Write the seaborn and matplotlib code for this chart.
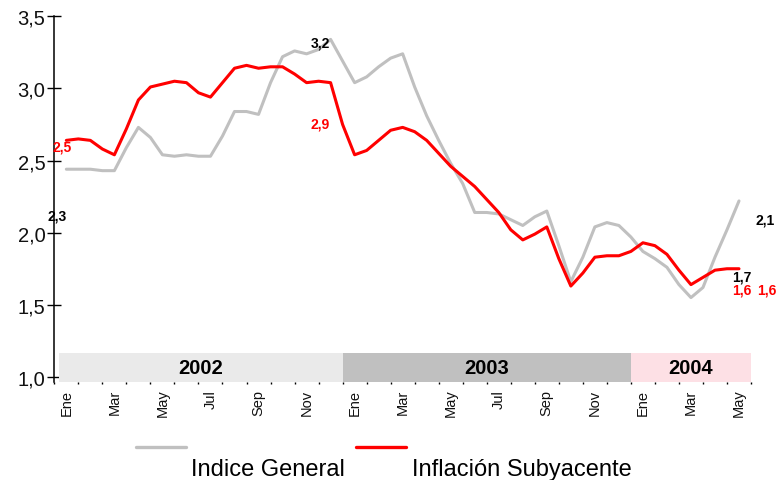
import numpy as np
import pandas as pd
import matplotlib
matplotlib.use("Agg")
import matplotlib.pyplot as plt
from matplotlib.lines import Line2D
from matplotlib.patches import Rectangle
import seaborn as sns

# ---- data (half-month samples, Ene 2002 .. May 2004) ----
month_labels = ["Ene", "Feb", "Mar", "Abr", "May", "Jun", "Jul", "Ago", "Sep", "Oct", "Nov", "Dic",
                "Ene", "Feb", "Mar", "Abr", "May", "Jun", "Jul", "Ago", "Sep", "Oct", "Nov", "Dic",
                "Ene", "Feb", "Mar", "Abr", "May"]
years = ["2002", "2003", "2004"]

indice_general = [2.44, 2.44, 2.44, 2.43, 2.43, 2.59, 2.73, 2.66, 2.54, 2.53,
                  2.54, 2.53, 2.53, 2.67, 2.84, 2.84, 2.82, 3.04, 3.22, 3.26,
                  3.24, 3.27, 3.34, 3.19, 3.04, 3.08, 3.15, 3.21, 3.24, 3.01,
                  2.81, 2.64, 2.48, 2.34, 2.14, 2.14, 2.13, 2.09, 2.05, 2.11,
                  2.15, 1.91, 1.66, 1.83, 2.04, 2.07, 2.05, 1.97, 1.87, 1.82,
                  1.76, 1.64, 1.55, 1.62, 1.83, 2.02, 2.22]

inflacion_subyacente = [2.64, 2.65, 2.64, 2.58, 2.54, 2.72, 2.92, 3.01, 3.03, 3.05,
                        3.04, 2.97, 2.94, 3.04, 3.14, 3.16, 3.14, 3.15, 3.15, 3.10,
                        3.04, 3.05, 3.04, 2.75, 2.54, 2.57, 2.64, 2.71, 2.73, 2.70,
                        2.64, 2.55, 2.46, 2.39, 2.32, 2.23, 2.14, 2.02, 1.95, 1.99,
                        2.04, 1.82, 1.63, 1.72, 1.83, 1.84, 1.84, 1.87, 1.93, 1.91,
                        1.85, 1.74, 1.64, 1.69, 1.74, 1.75, 1.75]

annotations = [("3,2", 10.57, 3.32, "black"), ("2,9", 10.57, 2.757, "red"),
               ("2,5", -0.18, 2.598, "red"), ("2,3", -0.40, 2.117, "black"),
               ("2,1", 29.08, 2.089, "black"), ("1,7", 28.11, 1.697, "black"),
               ("1,6", 28.11, 1.605, "red"), ("1,6", 29.15, 1.605, "red")]

GREY = "#c0c0c0"
RED = "#ff0000"
band_colors = ["#eaeaea", "#c0c0c0", "#fde0e5"]
band_edges = [-0.3, 11.5, 23.5, 28.5]

sns.set_theme(style="white")
plt.rcParams["font.family"] = ["Liberation Sans", "DejaVu Sans"]

fig = plt.figure(figsize=(7.76, 4.81), dpi=100)
ax = fig.add_axes([0.070, 0.2044, 0.8978, 0.7596])

t = np.arange(len(indice_general)) / 2.0
df = pd.DataFrame({"t": t, "ig": indice_general, "is": inflacion_subyacente})
sns.lineplot(data=df, x="t", y="ig", ax=ax, color=GREY, lw=2.2, legend=False,
             solid_joinstyle="round", solid_capstyle="round")
sns.lineplot(data=df, x="t", y="is", ax=ax, color=RED, lw=2.2, legend=False,
             solid_joinstyle="round", solid_capstyle="round")

ax.set_xlim(-0.5, 28.5)
ax.set_ylim(0.967, 3.5)

# year bands
for i, yr in enumerate(years):
    x0, x1 = band_edges[i], band_edges[i + 1]
    ax.add_patch(Rectangle((x0, 0.967), x1 - x0, 0.202, facecolor=band_colors[i],
                           edgecolor="none", zorder=1))
    ax.text((x0 + x1) / 2, 1.068, yr, ha="center", va="center", fontsize=14.5,
            fontweight="bold", color="black", zorder=3)

for txt, x, y, c in annotations:
    ax.text(x, y, txt, ha="center", va="center", fontsize=10, fontweight="bold", color=c,
            zorder=4)

# axes styling
for s in ["top", "right", "bottom"]:
    ax.spines[s].set_visible(False)
ax.spines["left"].set_color("black")
ax.spines["left"].set_linewidth(1.1)

yt = [1.0, 1.5, 2.0, 2.5, 3.0, 3.5]
ax.set_yticks(yt)
ax.set_yticklabels([f"{v:.1f}".replace(".", ",") for v in yt], fontsize=14.5, color="#111111")
ax.tick_params(axis="y", which="major", direction="inout", length=10, width=1.0,
               color="black", pad=1.5, left=True)

major_pos = list(range(0, 29, 2))
ax.set_xticks(major_pos)
ax.set_xticklabels([month_labels[i] for i in major_pos], rotation=90, fontsize=10.5,
                   color="#111111")
ax.tick_params(axis="x", which="major", length=0, pad=5)
ax.set_xticks(np.arange(-0.5, 29, 1.0), minor=True)
ax.tick_params(axis="x", which="minor", length=1.5, width=1.0, color="black",
               direction="out", bottom=True)
ax.set_xlabel("")
ax.set_ylabel("")
ax.grid(False)

# legend (drawn manually to mimic the original layout)
ly = 1 - 447.7 / 481
fig.add_artist(Line2D([136 / 776, 186 / 776], [ly, ly], transform=fig.transFigure,
                      color=GREY, lw=2.4))
fig.add_artist(Line2D([356 / 776, 406 / 776], [ly, ly], transform=fig.transFigure,
                      color=RED, lw=2.4))
fig.text(190.7 / 776, 1 - 476 / 481, "Indice General", fontsize=17, va="baseline",
         ha="left", color="black")
fig.text(411.7 / 776, 1 - 476 / 481, "Inflación Subyacente", fontsize=17, va="baseline",
         ha="left", color="black")

fig.savefig("out.png", dpi=100)
